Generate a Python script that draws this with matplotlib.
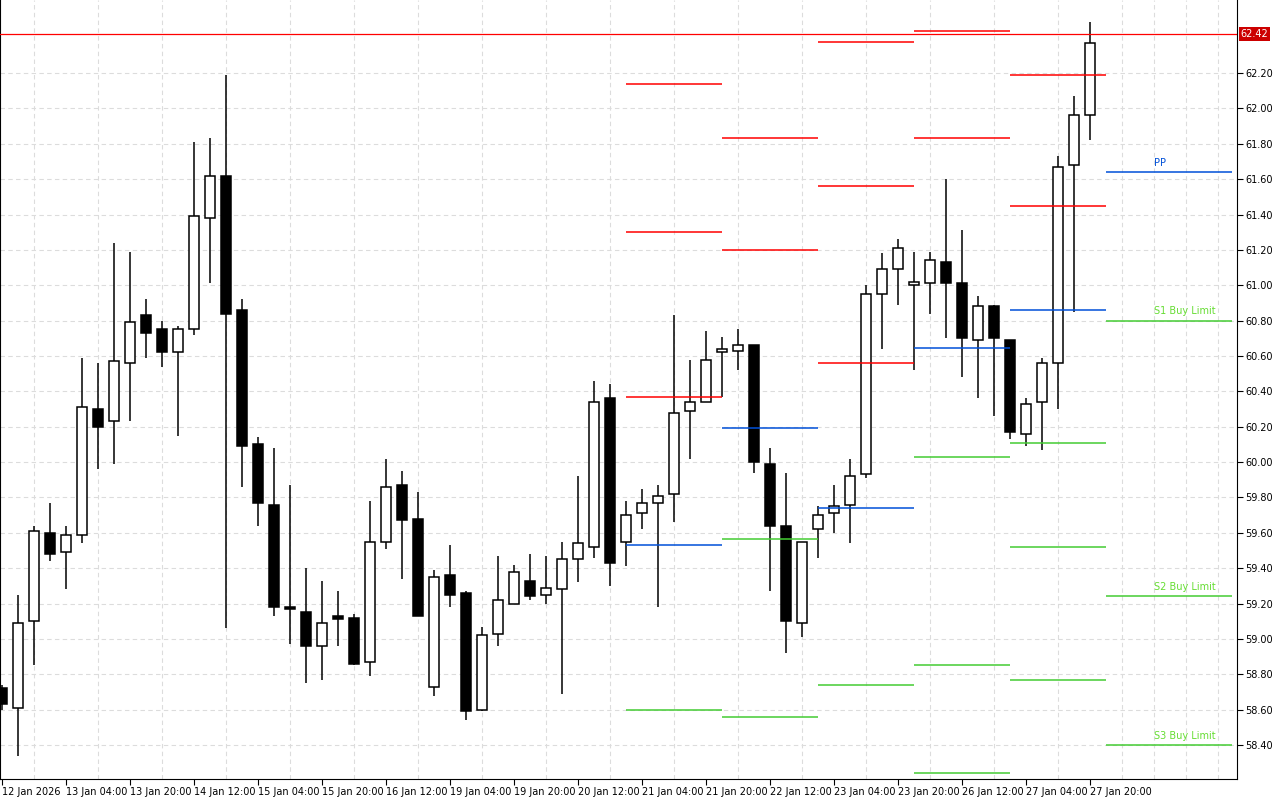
import numpy as np
import matplotlib
matplotlib.use("Agg")
import matplotlib.pyplot as plt

# 4h candles
opens = [58.72, 58.61, 59.10, 59.60, 59.49, 59.59, 60.30, 60.23, 60.56, 60.83,
         60.75, 60.62, 60.75, 61.38, 61.62, 60.86, 60.10, 59.76, 59.17, 59.15,
         58.96, 59.13, 59.12, 58.87, 59.55, 59.87, 59.68, 58.73, 59.36, 59.26,
         58.60, 59.03, 59.20, 59.33, 59.25, 59.28, 59.45, 59.52, 60.36, 59.55,
         59.71, 59.77, 59.82, 60.29, 60.34, 60.62, 60.63, 60.66, 59.99, 59.64,
         59.09, 59.62, 59.71, 59.76, 59.93, 60.95, 61.09, 61.00, 61.01, 61.13,
         61.01, 60.69, 60.88, 60.69, 60.16, 60.34, 60.56, 61.68, 61.96]
highs = [58.74, 59.25, 59.64, 59.77, 59.64, 60.59, 60.56, 61.24, 61.19, 60.92,
         60.80, 60.77, 61.81, 61.83, 62.19, 60.92, 60.14, 60.08, 59.87, 59.40,
         59.33, 59.27, 59.14, 59.78, 60.02, 59.95, 59.83, 59.39, 59.53, 59.27,
         59.07, 59.47, 59.42, 59.48, 59.47, 59.55, 59.92, 60.46, 60.44, 59.78,
         59.85, 59.87, 60.83, 60.58, 60.74, 60.71, 60.75, 60.66, 60.08, 59.94,
         59.55, 59.75, 59.87, 60.02, 61.00, 61.18, 61.26, 61.19, 61.19, 61.60,
         61.31, 60.94, 60.89, 60.69, 60.36, 60.59, 61.73, 62.07, 62.49]
lows = [58.60, 58.34, 58.85, 59.44, 59.28, 59.54, 59.96, 59.99, 60.23, 60.59,
        60.54, 60.15, 60.72, 61.01, 59.06, 59.86, 59.64, 59.13, 58.97, 58.75,
        58.77, 58.96, 58.85, 58.79, 59.51, 59.34, 59.13, 58.68, 59.18, 58.54,
        58.59, 58.96, 59.20, 59.22, 59.20, 58.69, 59.32, 59.46, 59.30, 59.41,
        59.62, 59.18, 59.66, 60.02, 60.34, 60.37, 60.52, 59.94, 59.27, 58.92,
        59.01, 59.46, 59.60, 59.54, 59.91, 60.64, 60.89, 60.52, 60.84, 60.70,
        60.48, 60.36, 60.26, 60.13, 60.09, 60.07, 60.30, 60.85, 61.82]
closes = [58.63, 59.09, 59.61, 59.48, 59.59, 60.31, 60.20, 60.57, 60.79, 60.73,
          60.62, 60.75, 61.39, 61.62, 60.84, 60.09, 59.77, 59.18, 59.16, 58.96,
          59.09, 59.11, 58.86, 59.55, 59.86, 59.67, 59.13, 59.35, 59.25, 58.59,
          59.02, 59.22, 59.38, 59.24, 59.29, 59.45, 59.54, 60.34, 59.43, 59.70,
          59.77, 59.81, 60.28, 60.34, 60.58, 60.64, 60.66, 60.00, 59.64, 59.10,
          59.55, 59.70, 59.75, 59.92, 60.95, 61.09, 61.21, 61.02, 61.14, 61.01,
          60.70, 60.88, 60.70, 60.17, 60.33, 60.56, 61.67, 61.96, 62.37]

# daily pivot segments: (start candle, end candle, levels, colours)
seg_starts = [39, 45, 51, 57, 63, 69]
seg_ends = [45, 51, 57, 63, 69, 76.9]
seg_levels = [
    [62.14, 61.30, 60.37, 59.53, 58.60],
    [61.83, 61.20, 60.19, 59.565, 58.56],
    [62.375, 61.56, 60.56, 59.74, 58.74],
    [62.44, 61.83, 60.645, 60.03, 58.85, 58.24],
    [62.19, 61.45, 60.86, 60.11, 59.52, 58.77],
    [61.64, 60.80, 59.24, 58.40],
]
seg_colors = [
    ['r', 'r', 'r', 'b', 'g'],
    ['r', 'r', 'b', 'g', 'g'],
    ['r', 'r', 'r', 'b', 'g'],
    ['r', 'r', 'b', 'g', 'g', 'g'],
    ['r', 'r', 'b', 'g', 'g', 'g'],
    ['b', 'g', 'g', 'g'],
]
last_labels = ['PP', 'S1 Buy Limit', 'S2 Buy Limit', 'S3 Buy Limit']

bid = 62.42
xlabels = ['12 Jan 2026', '13 Jan 04:00', '13 Jan 20:00', '14 Jan 12:00', '15 Jan 04:00',
           '15 Jan 20:00', '16 Jan 12:00', '19 Jan 04:00', '19 Jan 20:00', '20 Jan 12:00',
           '21 Jan 04:00', '21 Jan 20:00', '22 Jan 12:00', '23 Jan 04:00', '23 Jan 20:00',
           '26 Jan 12:00', '27 Jan 04:00', '27 Jan 20:00']

COLORS = {'r': '#ff0000', 'b': '#0050d8', 'g': '#44cc33'}

fig = plt.figure(figsize=(12.8, 8), dpi=100)
ax = fig.add_axes([0.0, 21 / 800, 1237 / 1280, 779 / 800])

x = np.arange(len(opens))
o = np.array(opens)
c = np.array(closes)
ax.vlines(x, lows, highs, color='black', lw=1.1, zorder=2)
up = c >= o
body = np.where(np.abs(c - o) < 0.012, 0.012, c - o)
ax.bar(x, body, bottom=o, width=0.62, color=np.where(up, 'white', 'black'),
       edgecolor='black', linewidth=1.1, zorder=3)

for s, e, levels, cols in zip(seg_starts, seg_ends, seg_levels, seg_colors):
    for lv, cl in zip(levels, cols):
        ax.hlines(lv, s, e, color=COLORS[cl], lw=1.1, zorder=4)

for lv, cl, txt in zip(seg_levels[-1], seg_colors[-1], last_labels):
    ax.text(72.0, lv + 0.025, txt, color=COLORS[cl] if cl == 'b' else '#66dd33',
            fontsize=7, ha='left', va='bottom', family='DejaVu Sans')

ax.axhline(bid, color='#ff0000', lw=0.9, zorder=5)

ax.set_xlim(-0.125, 77.2)
ax.set_ylim(58.208, 62.613)

yt = np.round(np.arange(58.4, 62.21, 0.2), 2)
ax.yaxis.tick_right()
ax.set_yticks(yt)
ax.set_yticklabels([f'{v:.2f}' for v in yt], fontsize=7)
ax.set_xticks(np.arange(0, 69, 4))
ax.set_xticklabels(xlabels, fontsize=7, ha='left')
ax.tick_params(axis='both', length=4, width=0.8, pad=2, colors='black')
ax.set_xticks(np.arange(0, 78, 2), minor=True)
ax.tick_params(axis='x', which='minor', length=0)
ax.grid(True, which='minor', axis='x', color='#dcdcdc', ls=(0, (4, 3)), lw=0.8)
ax.grid(True, which='major', axis='y', color='#dcdcdc', ls=(0, (4, 3)), lw=0.8)
ax.set_axisbelow(True)
ax.spines['top'].set_visible(False)

ax.text(1.003, (bid - 58.208) / (62.613 - 58.208), f'{bid:.2f}', transform=ax.transAxes,
        fontsize=7, color='white', va='center', ha='left',
        bbox=dict(boxstyle='square,pad=0.2', fc='#cc0000', ec='none'), zorder=6)

fig.savefig('out.png', dpi=100)
